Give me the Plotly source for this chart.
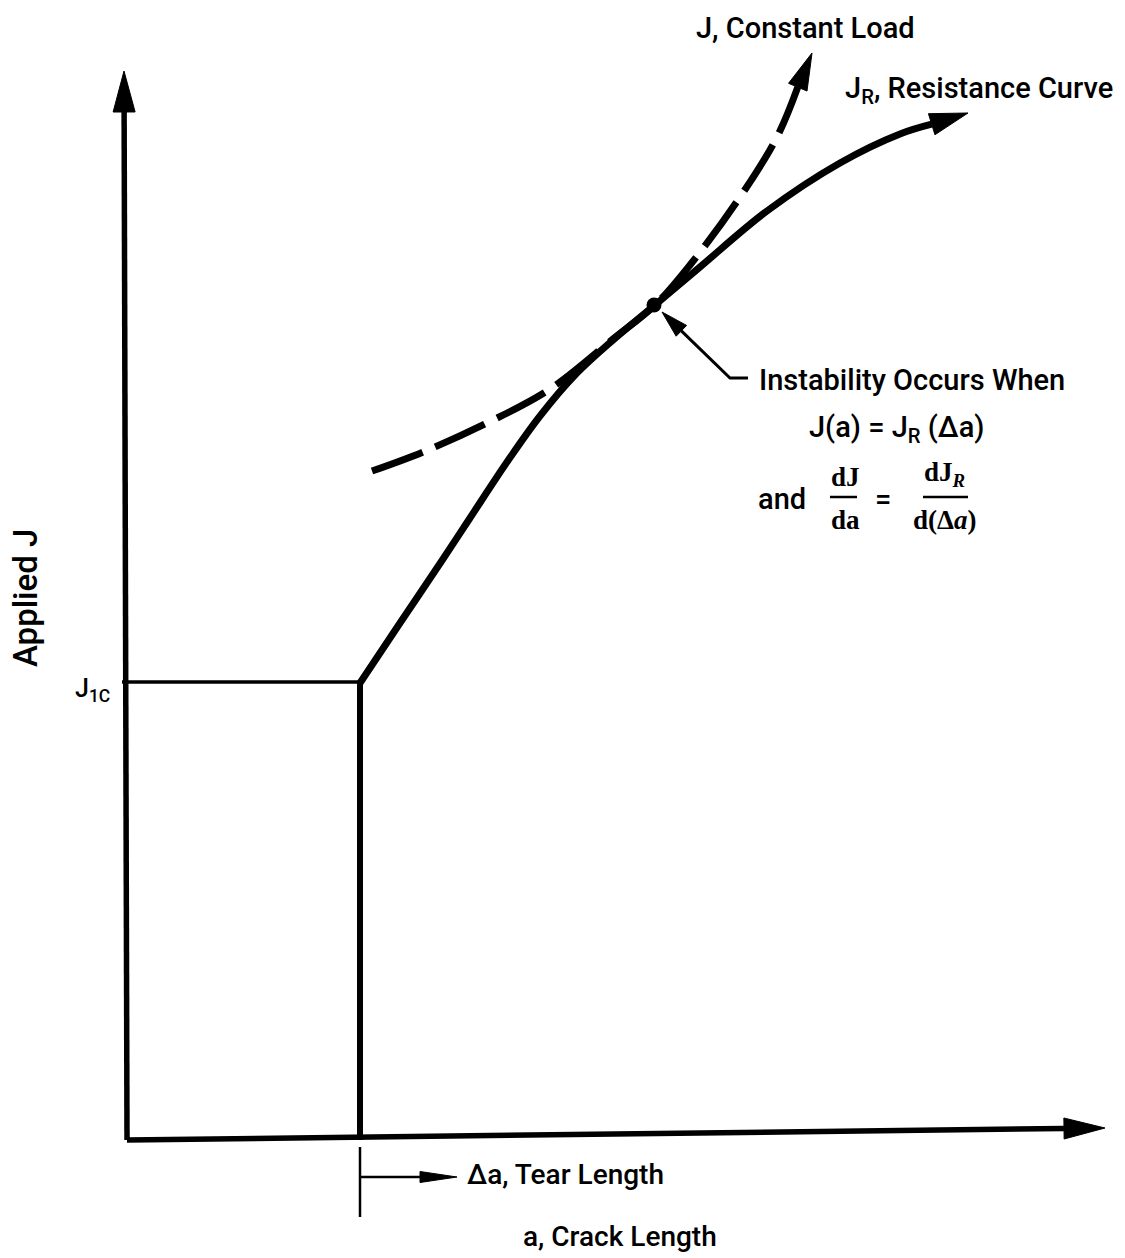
import math
import plotly.graph_objects as go

# ---- schematic data (arbitrary units: a = crack length, J = applied J) ----
# J_R resistance curve, starting at J_1C at the end of blunting
resist_a = [2.33, 2.73, 3.16, 3.43, 3.80, 4.13, 4.48, 4.86, 5.28, 5.73, 6.40, 7.13, 7.73, 8.41]
resist_J = [4.57, 5.17, 5.81, 6.22, 6.78, 7.24, 7.65, 8.00, 8.35, 8.73, 9.29, 9.77, 10.06, 10.27]

# J under constant load (dashed), tangent to J_R at the instability point
load_a = [2.45, 2.96, 3.60, 4.23, 4.86, 5.28, 5.63, 6.11, 6.50, 6.85]
load_J = [6.69, 6.88, 7.17, 7.51, 8.01, 8.35, 8.75, 9.40, 10.03, 10.87]

# instability (tangency) point
instab_a = [5.27]
instab_J = [8.35]

# axes and reference levels
x_axis_a = [0.0, 9.78]
x_axis_J = [0.0, 0.12]
y_axis_a = [0.0, -0.03]
y_axis_J = [0.0, 10.69]
J1C = 4.58
a_blunt = 2.33

FONT = "Roboto, Liberation Sans, sans-serif"
SERIF = "Liberation Serif, DejaVu Serif, serif"
INK = "black"


def arrow_head(tip_x, tip_y, from_x, from_y, length, half):
    dx, dy = tip_x - from_x, tip_y - from_y
    n = math.hypot(dx, dy)
    ux, uy = dx / n, dy / n
    bx, by = tip_x - length * ux, tip_y - length * uy
    nx, ny = -uy, ux
    xs = [tip_x, bx + half * nx, bx - half * nx, tip_x]
    ys = [tip_y, by + half * ny, by - half * ny, tip_y]
    return bx, by, xs, ys


fig = go.Figure()


def add_line(xs, ys, width, dash="solid", shape="linear"):
    fig.add_trace(go.Scatter(x=xs, y=ys, mode="lines",
                             line=dict(color=INK, width=width, dash=dash, shape=shape,
                                       smoothing=1.0),
                             hoverinfo="skip", showlegend=False))


def add_fill(xs, ys):
    fig.add_trace(go.Scatter(x=xs, y=ys, mode="lines", fill="toself",
                             fillcolor=INK, line=dict(color=INK, width=1),
                             hoverinfo="skip", showlegend=False))


# axes with arrow heads
bx, by, hx, hy = arrow_head(y_axis_a[1], y_axis_J[1], y_axis_a[0], y_axis_J[0], 0.41, 0.11)
add_line([y_axis_a[0], bx], [y_axis_J[0], by], 5.5)
add_fill(hx, hy)
bx, by, hx, hy = arrow_head(x_axis_a[1], x_axis_J[1], x_axis_a[0], x_axis_J[0], 0.41, 0.105)
add_line([x_axis_a[0], bx], [x_axis_J[0], by], 5.5)
add_fill(hx, hy)

# J_1C level and blunting line
add_line([-0.05, a_blunt], [J1C, J1C], 3.5)
add_line([a_blunt, a_blunt], [0, J1C], 6)

# resistance curve with arrow head
bx, by, hx, hy = arrow_head(resist_a[-1], resist_J[-1], resist_a[-2], resist_J[-2], 0.38, 0.11)
add_line(resist_a[:-1] + [bx], resist_J[:-1] + [by], 7, shape="spline")
add_fill(hx, hy)

# constant-load J curve (dashed) with arrow head
bx, by, hx, hy = arrow_head(load_a[-1], load_J[-1], load_a[-2], load_J[-2], 0.37, 0.10)
add_line(load_a[:-1] + [bx], load_J[:-1] + [by], 7, dash="54px,14px", shape="spline")
add_fill(hx, hy)

# tangency point
fig.add_trace(go.Scatter(x=instab_a, y=instab_J, mode="markers",
                         marker=dict(color=INK, size=15), hoverinfo="skip", showlegend=False))

# leader from the instability note to the tangency point
tip_x, tip_y = instab_a[0] + 0.08, instab_J[0] - 0.07
bx, by, hx, hy = arrow_head(tip_x, tip_y, 6.03, 7.62, 0.27, 0.075)
add_line([6.21, 6.03, bx], [7.62, 7.62, by], 3)
add_fill(hx, hy)

# tear length marker below the a axis
add_line([a_blunt, a_blunt], [-0.07, -0.77], 2.5)
bx, by, hx, hy = arrow_head(3.30, -0.37, a_blunt, -0.37, 0.37, 0.055)
add_line([a_blunt, bx], [-0.37, -0.37], 2.5)
add_fill(hx, hy)

# fraction bars
add_line([7.03, 7.30], [6.43, 6.43], 2.5)
add_line([7.96, 8.41], [6.43, 6.43], 2.5)

ann = []


def text(x, y, s, size=29, anchor="center", family=FONT, angle=0, weight=500):
    ann.append(dict(x=x, y=y, xref="x", yref="y", text=s, showarrow=False,
                    xanchor=anchor, yanchor="middle", textangle=angle,
                    font=dict(family=family, size=size, color=INK, weight=weight)))


text(6.78, 11.12, "J, Constant Load")
text(7.16, 10.50, "J<sub>R</sub>, Resistance Curve", anchor="left")
text(6.30, 7.60, "Instability Occurs When", anchor="left")
text(7.69, 7.11, "J(a) = J<sub>R</sub> (Δa)")
text(6.55, 6.41, "and")
text(7.18, 6.63, "dJ", size=27, family=SERIF, weight=700)
text(7.18, 6.20, "da", size=27, family=SERIF, weight=700)
text(7.56, 6.41, "=")
text(8.17, 6.66, "dJ<sub><i>R</i></sub>", size=27, family=SERIF, weight=700)
text(8.17, 6.20, "d(Δ<i>a</i>)", size=27, family=SERIF, weight=700)
text(-1.02, 5.42, "Applied J", size=33, angle=-90)
text(-0.35, 4.50, "J<sub>1C</sub>", size=25)
text(3.38, -0.34, "Δa, Tear Length", size=28, anchor="left")
text(4.93, -0.96, "a, Crack Length", size=28)

fig.update_layout(
    width=1125, height=1258,
    margin=dict(l=0, r=0, t=0, b=0),
    paper_bgcolor="white", plot_bgcolor="white",
    xaxis=dict(range=[-1.27, 9.98], visible=False, fixedrange=True),
    yaxis=dict(range=[-1.18, 11.40], visible=False, fixedrange=True),
    annotations=ann,
    showlegend=False,
)

fig.write_html("out.html", config={"displayModeBar": False})
